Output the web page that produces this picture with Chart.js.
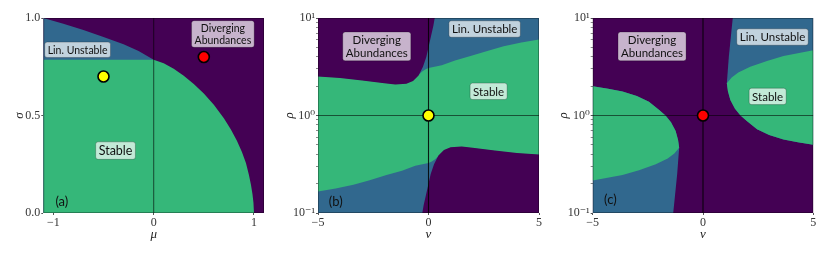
<!DOCTYPE html>
<html><head><meta charset="utf-8">
<script src="https://cdn.jsdelivr.net/npm/chart.js@4.4.1/dist/chart.umd.min.js"></script>
<style>
html,body{margin:0;padding:0;background:#fff;}
#wrap{position:relative;width:830px;height:254px;overflow:hidden;}
canvas{position:absolute;top:0;}
</style></head><body>
<div id="wrap">
<canvas id="ca" width="275" height="254" style="left:0px"></canvas>
<canvas id="cb" width="275" height="254" style="left:275px"></canvas>
<canvas id="cc" width="275" height="254" style="left:550px"></canvas>
</div>
<script>
// ---------------- Panel (a): mu / sigma ----------------
const aMuLimits = [-1.1, 1.1];
const aSigmaLimits = [0, 1];
const aXTicks = [-1, 0, 1];
const aXTickLabels = ['\u22121', '0', '1'];
const aYTicks = [0, 0.5, 1];
const aYTickLabels = ['0.0', '0.5', '1.0'];
// upper edge of "Lin. Unstable" (blue / purple boundary)
const aUnstableEdgeMu    = [-1.1, -0.9, -0.7, -0.5, -0.3, -0.15, 0];
const aUnstableEdgeSigma = [1.0, 0.971, 0.939, 0.903, 0.865, 0.831, 0.786];
// upper edge of "Stable"
const aStableTopMu    = [-1.1, 0, 0.1, 0.2, 0.3, 0.4, 0.5, 0.6, 0.7, 0.77, 0.83, 0.88, 0.92, 0.95, 0.97, 0.985, 0.995, 1.0];
const aStableTopSigma = [0.786, 0.786, 0.768, 0.740, 0.704, 0.662, 0.613, 0.555, 0.486, 0.428, 0.371, 0.313, 0.256, 0.195, 0.145, 0.098, 0.052, 0];
const aRefMu = 0;
const aDotMu = [-0.5, 0.5];
const aDotSigma = [0.7, 0.8];
const aDotColors = ['#ffff00', '#ff0000'];

// ---------------- Panel (b): nu / rho ----------------
const bNuLimits = [-5, 5];
const bRhoLimits = [0.1, 10];
const bXTicks = [-5, 0, 5];
const bXTickLabels = ['\u22125', '0', '5'];
const yMajorTicks = [0.1, 1, 10];
const yMajorLabels = ['10\u207B\u00B9', '10\u2070', '10\u00B9'];
const yMinorTicks = [0.2, 0.3, 0.4, 0.5, 0.6, 0.7, 0.8, 0.9, 2, 3, 4, 5, 6, 7, 8, 9];
const bDivTopNu  = [-5, -4, -3, -2, -1.5, -1, -0.7, -0.45, -0.25, -0.1, 0, 0.12, 0.22, 0.28];
const bDivTopRho = [2.512, 2.427, 2.291, 2.138, 2.080, 2.113, 2.265, 2.570, 3.162, 3.981, 5.012, 6.607, 8.318, 10];
const bStableTopNu  = [-5, -4, -3, -2, -1.5, -1, -0.7, -0.45, -0.3, -0.15, 0, 0.6, 1.2, 1.9, 2.7, 3.4, 4.2, 5];
const bStableTopRho = [2.541, 2.455, 2.317, 2.163, 2.104, 2.138, 2.291, 2.600, 2.818, 2.965, 3.069, 3.273, 3.673, 4.074, 4.624, 5.129, 5.623, 6.026];
const bStableBotNu  = [-5, -4.2, -3.4, -2.7, -1.9, -1.2, -0.6, 0, 0.15, 0.3, 0.45, 0.7, 1, 1.5, 2, 3, 4, 5];
const bStableBotRho = [0.166, 0.178, 0.195, 0.216, 0.245, 0.272, 0.306, 0.326, 0.337, 0.355, 0.385, 0.437, 0.468, 0.475, 0.462, 0.432, 0.407, 0.394];
const bDivBotNu  = [-0.28, -0.22, -0.12, 0, 0.1, 0.25, 0.45, 0.7, 1, 1.5, 2, 3, 4, 5];
const bDivBotRho = [0.1, 0.120, 0.151, 0.2, 0.251, 0.316, 0.389, 0.442, 0.473, 0.481, 0.468, 0.437, 0.412, 0.398];
const bDotNu = [0];
const bDotRho = [1];
const bDotColors = ['#ffff00'];

// ---------------- Panel (c): nu / rho ----------------
const cRightEdgeNu  = [1.35, 1.29, 1.17, 1.08];
const cRightEdgeRho = [10, 7.413, 3.981, 2.138];
const cRightStableTopNu  = [1.08, 1.3, 1.6, 2.14, 2.9, 3.65, 5];
const cRightStableTopRho = [2.138, 2.455, 2.754, 3.162, 3.631, 4.074, 4.656];
const cRightStableBotNu  = [1.08, 1.13, 1.24, 1.45, 1.7, 2.0, 2.45, 3.0, 3.65, 4.3, 5];
const cRightStableBotRho = [2.138, 1.778, 1.445, 1.175, 1.0, 0.871, 0.724, 0.631, 0.569, 0.531, 0.501];
const cLeftEdgeNu  = [-1.35, -1.29, -1.17, -1.08];
const cLeftEdgeRho = [0.1, 0.135, 0.251, 0.468];
const cLeftStableTopNu  = [-1.08, -1.13, -1.24, -1.45, -1.7, -2.0, -2.45, -3.0, -3.65, -4.3, -5];
const cLeftStableTopRho = [0.468, 0.562, 0.692, 0.851, 1.0, 1.148, 1.380, 1.585, 1.758, 1.884, 1.995];
const cLeftStableBotNu  = [-1.08, -1.3, -1.6, -2.14, -2.9, -3.65, -5];
const cLeftStableBotRho = [0.468, 0.407, 0.363, 0.316, 0.275, 0.245, 0.215];
const cDotNu = [0];
const cDotRho = [1];
const cDotColors = ['#ff0000'];

// region label texts
const txtDiverging = ['Diverging', 'Abundances'];
const txtUnstable = ['Lin. Unstable'];
const txtStable = ['Stable'];

// ---------------- helpers ----------------
const PURPLE = '#440154', BLUE = '#31688e', GREEN = '#35b779';
const pts = (xs, ys) => xs.map((x, i) => ({x: x, y: ys[i]}));
const rev = a => a.slice().reverse();
const rect = (xl, yl) => [{x: xl[0], y: yl[0]}, {x: xl[0], y: yl[1]}, {x: xl[1], y: yl[1]}, {x: xl[1], y: yl[0]}];

function region(data, color, order) {
  return {data, fill: 'shape', backgroundColor: color, borderColor: 'rgba(0,0,0,0)',
          borderWidth: 0, pointRadius: 0, tension: 0, order};
}
function refLine(data, color, width, order) {
  return {data, fill: false, borderColor: color, borderWidth: width, pointRadius: 0, tension: 0, order};
}
function dots(data, colors, order) {
  return {data, showLine: false, fill: false, pointRadius: 5.5, pointBorderWidth: 1.6,
          pointBorderColor: '#000', pointBackgroundColor: colors, order, clip: false};
}

const labelPlugin = {
  id: 'regionLabels',
  afterDatasetsDraw(chart, args, opts) {
    const ctx = chart.ctx, xs = chart.scales.x, ys = chart.scales.y;
    const ca = chart.chartArea;
    ctx.save();
    ctx.strokeStyle = 'rgba(0,0,0,0.3)'; ctx.lineWidth = 1;
    ctx.strokeRect(ca.left + 0.5, ca.top + 0.5, ca.right - ca.left - 1, ca.bottom - ca.top - 1);
    ctx.restore();
    for (const it of (opts.items || [])) {
      const cx = xs.getPixelForValue(it.x), cy = ys.getPixelForValue(it.y);
      const size = it.size || 11.5;
      const lh = size * 1.08;
      ctx.save();
      ctx.font = size + 'px Lato, "Open Sans", sans-serif';
      const w = Math.max(...it.text.map(l => ctx.measureText(l).width));
      const h = lh * it.text.length;
      if (it.box) {
        const px = 3, py = 2;
        ctx.beginPath();
        ctx.roundRect(cx - w / 2 - px, cy - h / 2 - py, w + 2 * px, h + 2 * py, 2.5);
        ctx.fillStyle = 'rgba(255,255,255,0.7)';
        ctx.fill();
        ctx.lineWidth = 0.8;
        ctx.strokeStyle = 'rgba(0,0,0,0.3)';
        ctx.stroke();
      }
      ctx.fillStyle = '#111';
      ctx.textAlign = 'center';
      ctx.textBaseline = 'middle';
      it.text.forEach((l, i) => ctx.fillText(l, cx, cy - h / 2 + lh * (i + 0.5) + 0.5));
      ctx.restore();
    }
  }
};

const tickFont = {family: '"Liberation Serif", "DejaVu Serif", serif', size: 12};
const titleFont = {family: '"Liberation Serif", "DejaVu Serif", serif', size: 13, style: 'italic'};

function makeChart(id, c) {
  return new Chart(document.getElementById(id), {
    type: 'line',
    data: {datasets: c.datasets},
    plugins: [labelPlugin],
    options: {
      responsive: false, animation: false, devicePixelRatio: 1, events: [],
      layout: {padding: {top: 18, right: c.padRight, bottom: 0, left: 0}},
      plugins: {legend: {display: false}, tooltip: {enabled: false}, regionLabels: {items: c.labels}},
      scales: {
        x: {
          type: 'linear', min: c.xMin, max: c.xMax,
          afterFit: s => { s.height = 41; },
          afterBuildTicks: s => { s.ticks = c.xTicks.map(v => ({value: v})); },
          ticks: {autoSkip: false, maxRotation: 0, padding: 1, color: '#333', font: tickFont,
                  callback: (v, i) => c.xTickLabels[i]},
          grid: {drawOnChartArea: false, drawTicks: true, tickLength: 2, color: '#555'},
          border: {display: false},
          title: {display: true, text: c.xTitle, font: titleFont, color: '#222', padding: {top: 0, bottom: 12}}
        },
        y: {
          type: c.yType, min: c.yMin, max: c.yMax,
          afterFit: s => { s.width = c.yWidth; },
          afterBuildTicks: s => { s.ticks = c.yTicks.map(v => ({value: v})); },
          ticks: {autoSkip: false, padding: 1, color: '#333', font: tickFont,
                  callback: (v, i) => { const k = c.yMajor.indexOf(c.yTicks[i]); return k >= 0 ? c.yTickLabels[k] : ''; }},
          grid: {drawOnChartArea: false, drawTicks: true, tickLength: 2,
                 color: ctx => (ctx.tick && c.yMajor.indexOf(ctx.tick.value) < 0) ? '#888' : '#555'},
          border: {display: false},
          title: {display: true, text: c.yTitle, font: titleFont, color: '#222', padding: {top: c.yTitlePad, bottom: 0}}
        }
      }
    }
  });
}

// ---- chart a
makeChart('ca', {
  xMin: aMuLimits[0], xMax: aMuLimits[1], yMin: aSigmaLimits[0], yMax: aSigmaLimits[1], yType: 'linear',
  xTicks: aXTicks, xTickLabels: aXTickLabels, yTicks: aYTicks, yMajor: aYTicks, yTickLabels: aYTickLabels,
  xTitle: '\u03BC', yTitle: '\u03C3', yWidth: 43.3, yTitlePad: 12, padRight: 11,
  datasets: [
    region(rect(aMuLimits, aSigmaLimits), PURPLE, 20),
    region([{x: aMuLimits[0], y: aSigmaLimits[0]}, ...pts(aUnstableEdgeMu, aUnstableEdgeSigma), {x: aRefMu, y: aSigmaLimits[0]}], BLUE, 19),
    region([{x: aMuLimits[0], y: aSigmaLimits[0]}, ...pts(aStableTopMu, aStableTopSigma)], GREEN, 18),
    refLine([{x: aRefMu, y: aSigmaLimits[0]}, {x: aRefMu, y: aSigmaLimits[1]}], 'rgba(0,0,0,0.5)', 1.2, 5),
    dots(pts(aDotMu, aDotSigma), aDotColors, 1)
  ],
  labels: [
    {text: txtUnstable, x: -0.758, y: 0.837, box: true, size: 10.5},
    {text: txtDiverging, x: 0.69, y: 0.918, box: true, size: 10.5},
    {text: txtStable, x: -0.38, y: 0.32, box: true, size: 12.5},
    {text: ['(a)'], x: -0.915, y: 0.06, box: false, size: 13}
  ]
});

// ---- chart b
makeChart('cb', {
  xMin: bNuLimits[0], xMax: bNuLimits[1], yMin: bRhoLimits[0], yMax: bRhoLimits[1], yType: 'logarithmic',
  xTicks: bXTicks, xTickLabels: bXTickLabels, yTicks: [...yMajorTicks, ...yMinorTicks], yMajor: yMajorTicks, yTickLabels: yMajorLabels,
  xTitle: '\u03BD', yTitle: '\u03C1', yWidth: 43, yTitlePad: 7, padRight: 11,
  datasets: [
    region(rect(bNuLimits, bRhoLimits), GREEN, 20),
    region([...pts(bStableTopNu, bStableTopRho), {x: bNuLimits[1], y: bRhoLimits[1]}, {x: bNuLimits[0], y: bRhoLimits[1]}], BLUE, 19),
    region([...pts(bDivTopNu, bDivTopRho), {x: bNuLimits[0], y: bRhoLimits[1]}], PURPLE, 18),
    region([...pts(bStableBotNu, bStableBotRho), {x: bNuLimits[1], y: bRhoLimits[0]}, {x: bNuLimits[0], y: bRhoLimits[0]}], BLUE, 17),
    region([...pts(bDivBotNu, bDivBotRho), {x: bNuLimits[1], y: bRhoLimits[0]}], PURPLE, 16),
    refLine([{x: bNuLimits[0], y: 1}, {x: bNuLimits[1], y: 1}], 'rgba(0,0,0,0.55)', 1.2, 5),
    refLine([{x: 0, y: bRhoLimits[0]}, {x: 0, y: bRhoLimits[1]}], 'rgba(0,0,0,0.85)', 1.1, 4),
    dots(pts(bDotNu, bDotRho), bDotColors, 1)
  ],
  labels: [
    {text: txtDiverging, x: -2.34, y: 5.11, box: true},
    {text: txtUnstable, x: 2.54, y: 7.71, box: true},
    {text: txtStable, x: 2.72, y: 1.77, box: true},
    {text: ['(b)'], x: -4.2, y: 0.131, box: false, size: 13}
  ]
});

// ---- chart c
makeChart('cc', {
  xMin: bNuLimits[0], xMax: bNuLimits[1], yMin: bRhoLimits[0], yMax: bRhoLimits[1], yType: 'logarithmic',
  xTicks: bXTicks, xTickLabels: bXTickLabels, yTicks: [...yMajorTicks, ...yMinorTicks], yMajor: yMajorTicks, yTickLabels: yMajorLabels,
  xTitle: '\u03BD', yTitle: '\u03C1', yWidth: 42.7, yTitlePad: 5.5, padRight: 11.7,
  datasets: [
    region(rect(bNuLimits, bRhoLimits), PURPLE, 20),
    region([...pts(cRightEdgeNu, cRightEdgeRho), ...pts(cRightStableBotNu, cRightStableBotRho).slice(1), {x: bNuLimits[1], y: bRhoLimits[1]}], BLUE, 19),
    region([...pts(cRightStableTopNu, cRightStableTopRho), ...rev(pts(cRightStableBotNu, cRightStableBotRho))], GREEN, 18),
    region([...pts(cLeftEdgeNu, cLeftEdgeRho), ...pts(cLeftStableTopNu, cLeftStableTopRho).slice(1), {x: bNuLimits[0], y: bRhoLimits[0]}], BLUE, 17),
    region([...pts(cLeftStableTopNu, cLeftStableTopRho), ...rev(pts(cLeftStableBotNu, cLeftStableBotRho))], GREEN, 16),
    refLine([{x: bNuLimits[0], y: 1}, {x: bNuLimits[1], y: 1}], 'rgba(0,0,0,0.55)', 1.2, 5),
    refLine([{x: 0, y: bRhoLimits[0]}, {x: 0, y: bRhoLimits[1]}], 'rgba(0,0,0,0.85)', 1.1, 4),
    dots(pts(cDotNu, cDotRho), cDotColors, 1)
  ],
  labels: [
    {text: txtDiverging, x: -2.31, y: 5.11, box: true},
    {text: txtUnstable, x: 3.15, y: 6.38, box: true},
    {text: txtStable, x: 2.93, y: 1.57, box: true},
    {text: ['(c)'], x: -4.2, y: 0.137, box: false, size: 13}
  ]
});
</script>
</body></html>
